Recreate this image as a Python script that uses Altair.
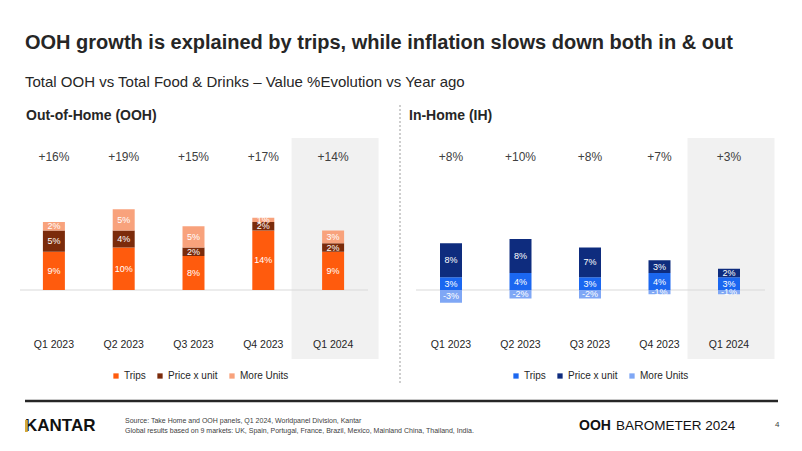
import altair as alt
import pandas as pd

FONT = "Liberation Sans"

quarters = ["Q1 2023", "Q2 2023", "Q3 2023", "Q4 2023", "Q1 2024"]
components = ["Trips", "Price x unit", "More Units"]

ooh_trips = [9, 10, 8, 14, 9]
ooh_price = [5, 4, 2, 2, 2]
ooh_units = [2, 5, 5, 1, 3]
ooh_totals = ["+16%", "+19%", "+15%", "+17%", "+14%"]

ih_trips = [3, 4, 3, 4, 3]
ih_price = [8, 8, 7, 3, 2]
ih_units = [-3, -2, -2, -1, -1]
ih_totals = ["+8%", "+10%", "+8%", "+7%", "+3%"]

ooh_colors = ["#FF5B0D", "#7B2B0B", "#F8A27C"]
ih_colors = ["#1B67F0", "#0E2C7E", "#7FA7F5"]

highlight = "Q1 2024"

title_text = "OOH growth is explained by trips, while inflation slows down both in & out"
subtitle_text = "Total OOH vs Total Food & Drinks \u2013 Value %Evolution vs Year ago"
source_lines = [
    "Source: Take Home and OOH panels, Q1 2024, Worldpanel Division, Kantar",
    "Global results based on 9 markets: UK, Spain, Portugal, France, Brazil, Mexico, Mainland China, Thailand, India.",
]


def stack(trips, price, units):
    rows = []
    for i, q in enumerate(quarters):
        pos, neg = 0.0, 0.0
        for j, (c, v) in enumerate(zip(components, (trips[i], price[i], units[i]))):
            if v >= 0:
                y0, y1 = pos, pos + v
                pos = y1
            else:
                y0, y1 = neg, neg + v
                neg = y1
            rows.append(dict(quarter=q, component=c, order=j, value=v,
                             y0=y0, y1=y1, mid=(y0 + y1) / 2, label=f"{v}%"))
    return pd.DataFrame(rows)


yscale = alt.Scale(domain=[-5, 20], range=[303.25, 197], nice=False, zero=False)


def panel(df, totals, colors, xrange, base_x, legend_x):
    xs = alt.Scale(type="band", domain=quarters, range=xrange, paddingInner=0, paddingOuter=0)
    X = alt.X("quarter:N", scale=xs, axis=None)
    shade = alt.Chart(pd.DataFrame({"quarter": [highlight]})).mark_bar(
        size=87, color="#F1F1F1", xOffset=2
    ).encode(x=X, y=alt.value(130), y2=alt.value(351))
    base = alt.Chart(pd.DataFrame({"v": [0]})).mark_rule(color="#D9D9D9", strokeWidth=1).encode(
        x=alt.value(base_x[0]), x2=alt.value(base_x[1]),
        y=alt.Y("v:Q", scale=yscale, axis=None)
    )
    bars = alt.Chart(df).mark_bar(size=22).encode(
        x=X,
        y=alt.Y("y0:Q", scale=yscale, axis=None),
        y2="y1:Q",
        color=alt.Color(
            "component:N",
            scale=alt.Scale(domain=components, range=colors),
            legend=alt.Legend(
                orient="none", legendX=legend_x, legendY=363, direction="horizontal",
                title=None, symbolType="square", symbolSize=28, symbolStrokeWidth=0,
                labelFontSize=10, labelFont=FONT, labelColor="#262626",
                labelOffset=3, columnPadding=9
            ),
        ),
        order="order:Q",
    )
    seg = alt.Chart(df).mark_text(color="white", fontSize=9, font=FONT).encode(
        x=X, y=alt.Y("mid:Q", scale=yscale, axis=None), text="label:N"
    )
    tot = alt.Chart(pd.DataFrame({"quarter": quarters, "t": totals})).mark_text(
        fontSize=12, color="#404040", font=FONT
    ).encode(x=X, y=alt.value(149), text="t:N")
    cats = alt.Chart(pd.DataFrame({"quarter": quarters})).mark_text(
        fontSize=10.5, color="#262626", font=FONT
    ).encode(x=X, y=alt.value(337), text="quarter:N")
    return alt.layer(shade, base, bars, seg, tot, cats)


left = panel(stack(ooh_trips, ooh_price, ooh_units), ooh_totals, ooh_colors,
             [11, 360], (12, 360), 103)
right = panel(stack(ih_trips, ih_price, ih_units), ih_totals, ih_colors,
              [408.25, 755.75], (408, 757), 503)

dummy = pd.DataFrame({"a": [0]})


def label(text, x, y, size, weight="normal", color="#262626", align="left"):
    return alt.Chart(dummy).mark_text(
        text=text, fontSize=size, fontWeight=weight, color=color, font=FONT,
        align=align, baseline="middle"
    ).encode(x=alt.value(x), y=alt.value(y))


decor = [
    label(title_text, 17, 35, 20, "bold"),
    label(subtitle_text, 17, 74, 15),
    label("Out-of-Home (OOH)", 18, 108, 14, "bold"),
    label("In-Home (IH)", 401, 108, 14, "bold"),
    alt.Chart(dummy).mark_rule(color="#BFBFBF", strokeDash=[2, 2], strokeWidth=1.5).encode(
        x=alt.value(392), y=alt.value(97), y2=alt.value(377)
    ),
    alt.Chart(dummy).mark_rule(color="#262626", strokeWidth=2.5).encode(
        x=alt.value(17), x2=alt.value(770), y=alt.value(393)
    ),
    label("KANTAR", 17, 418, 17, "bold", "#111111"),
    alt.Chart(dummy).mark_rule(color="#D4A83A", strokeWidth=2.8).encode(
        x=alt.value(18.4), y=alt.value(412), y2=alt.value(424)
    ),
    label(source_lines[0], 117, 413, 7, color="#404040"),
    label(source_lines[1], 117, 423, 7, color="#404040"),
    label("OOH", 571, 418, 14, "bold", "#111111"),
    label("BAROMETER 2024", 608, 418, 13.5, color="#111111"),
    label("4", 767, 417, 8, color="#404040"),
]

chart = alt.layer(left, right, *decor).resolve_scale(
    x="independent", color="independent"
).properties(
    width=786, height=434, padding=0, background="white",
    autosize=alt.AutoSizeParams(type="none"),
).configure_view(stroke=None)

chart.save("out.html", embed_options={"renderer": "svg", "actions": False})
